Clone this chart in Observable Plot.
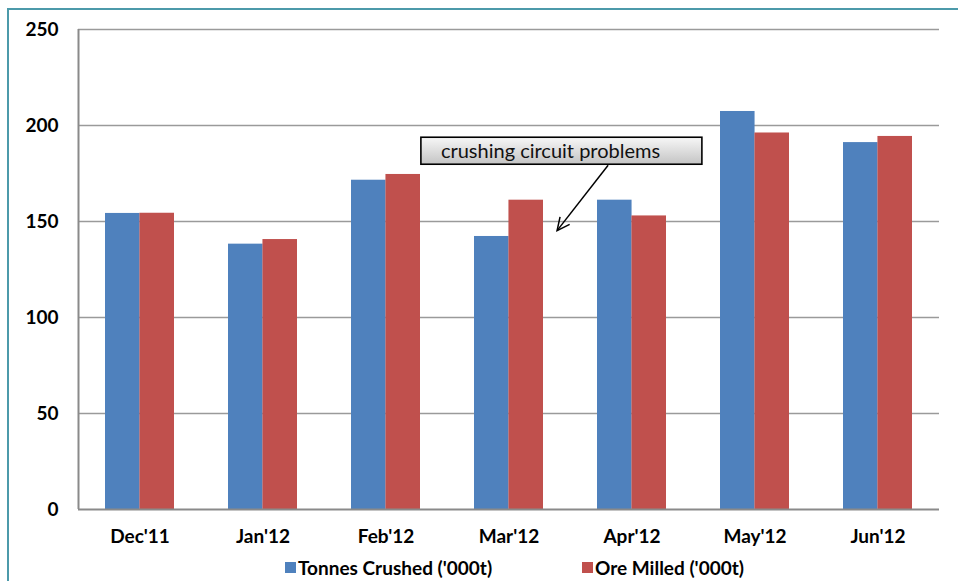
<!DOCTYPE html>
<html><head><meta charset="utf-8">
<script src="https://cdn.jsdelivr.net/npm/d3@7"></script>
<script src="https://cdn.jsdelivr.net/npm/@observablehq/plot@0.6"></script>
<style>
body{margin:0;background:#fff;}
#wrap{position:relative;width:958px;height:581px;overflow:hidden;font-family:Lato,"Open Sans",sans-serif;}
#frame{position:absolute;left:7px;top:8px;width:980px;height:620px;border-left:2px solid #4c9aaa;border-top:2px solid #4c9aaa;box-sizing:border-box;}
#chart{position:absolute;left:0;top:0;}
#overlay{position:absolute;left:0;top:0;pointer-events:none;}
.legend{position:absolute;top:556px;font-size:19px;font-weight:bold;color:#000;display:flex;align-items:center;white-space:nowrap;}
.legend .sw{width:11px;height:11px;margin-right:2px;}
</style></head><body>
<div id="wrap"><div id="frame"></div><div id="chart"></div><svg id="overlay" width="958" height="581"></svg></div>
<script>
const months = ["Dec'11","Jan'12","Feb'12","Mar'12","Apr'12","May'12","Jun'12"];
const tonnesCrushed = [154.2,138.2,171.5,142.2,161.1,207.3,191.1];
const oreMilled = [154.3,140.6,174.5,161.1,152.9,196.1,194.3];
const yTicks = [0,50,100,150,200,250];
const seriesNames = ["Tonnes Crushed ('000t)","Ore Milled ('000t)"];
const seriesColors = ["#4f81bd","#c0504d"];
const annotationText = "crushing circuit problems";

const data = months.map((m,i)=>({month:m, crushed:tonnesCrushed[i], milled:oreMilled[i]}));

const W=958,H=581,mL=78,mR=19,mT=29,mB=72;
const pIn=0.44,pOut=0.22;
const step=(W-mL-mR)/(months.length - pIn + 2*pOut);
const half=step*(1-pIn)/2;

const plot = Plot.plot({
  width:W,height:H,marginLeft:mL,marginRight:mR,marginTop:mT,marginBottom:mB,
  style:{fontFamily:"Lato, 'Open Sans', sans-serif",fontSize:"19px",fontWeight:"bold",color:"#000",background:"transparent",overflow:"visible"},
  x:{domain:months,paddingInner:pIn,paddingOuter:pOut,label:null,tickSize:0,tickPadding:20},
  y:{domain:[0,250],ticks:yTicks,label:null,tickSize:0,tickPadding:20,tickFormat:d3.format("d")},
  marks:[
    Plot.ruleY(yTicks.filter(d=>d>0),{stroke:"#9a9a9a",strokeWidth:1.6}),
    Plot.barY(data,{x:"month",y:"crushed",fill:seriesColors[0],insetRight:half}),
    Plot.barY(data,{x:"month",y:"milled",fill:seriesColors[1],insetLeft:half}),
    Plot.ruleY([0],{stroke:"#8a8a8a",strokeWidth:2}),
    Plot.ruleX([months[0]],{y1:0,y2:250,dx:-step/2,stroke:"#8a8a8a",strokeWidth:2})
  ]
});
document.getElementById("chart").appendChild(plot);

// annotation anchored through the plot's scales
const xs=plot.scale("x"), ys=plot.scale("y");
const bw=xs.bandwidth;
const cx=m=>xs.apply(m)+bw/2;
const boxCx=cx("Mar'12")+0.43*step, boxCy=ys.apply(186.6);
const tail=[cx("Apr'12")-0.19*step, ys.apply(179)];
const tip=[cx("Mar'12")+0.395*step, ys.apply(145)];
const ov=d3.select("#overlay");
const defs=ov.append("defs");
const g=defs.append("linearGradient").attr("id","gb").attr("x1",0).attr("y1",0).attr("x2",0).attr("y2",1);
g.append("stop").attr("offset","0%").attr("stop-color","#f7f7f7");
g.append("stop").attr("offset","100%").attr("stop-color","#c4c4c4");
const bwid=281,bht=27;
ov.append("rect").attr("x",boxCx-bwid/2).attr("y",boxCy-bht/2).attr("width",bwid).attr("height",bht)
  .attr("fill","url(#gb)").attr("stroke","#000").attr("stroke-width",1.6);
ov.append("text").attr("x",boxCx-bwid/2+20).attr("y",boxCy).attr("dy","0.35em")
  .attr("font-family","Lato, 'Open Sans', sans-serif").attr("font-size",20).attr("fill","#111").text(annotationText);
ov.append("line").attr("x1",tail[0]).attr("y1",tail[1]).attr("x2",tip[0]).attr("y2",tip[1]).attr("stroke","#000").attr("stroke-width",1.5);
const ang=Math.atan2(tip[1]-tail[1],tip[0]-tail[0]);
const L=14,a=0.45;
const p1=[tip[0]-L*Math.cos(ang-a),tip[1]-L*Math.sin(ang-a)];
const p2=[tip[0]-L*Math.cos(ang+a),tip[1]-L*Math.sin(ang+a)];
ov.append("path").attr("d",`M${p1}L${tip}L${p2}`).attr("fill","none").attr("stroke","#000").attr("stroke-width",1.5);

// legend
const legLeft=[285,582];
seriesNames.forEach((n,i)=>{
  const d=document.createElement("div");
  d.className="legend"; d.style.left=legLeft[i]+"px";
  d.innerHTML=`<span class="sw" style="background:${seriesColors[i]}"></span><span>${n}</span>`;
  document.getElementById("wrap").appendChild(d);
});
</script>
</body></html>
